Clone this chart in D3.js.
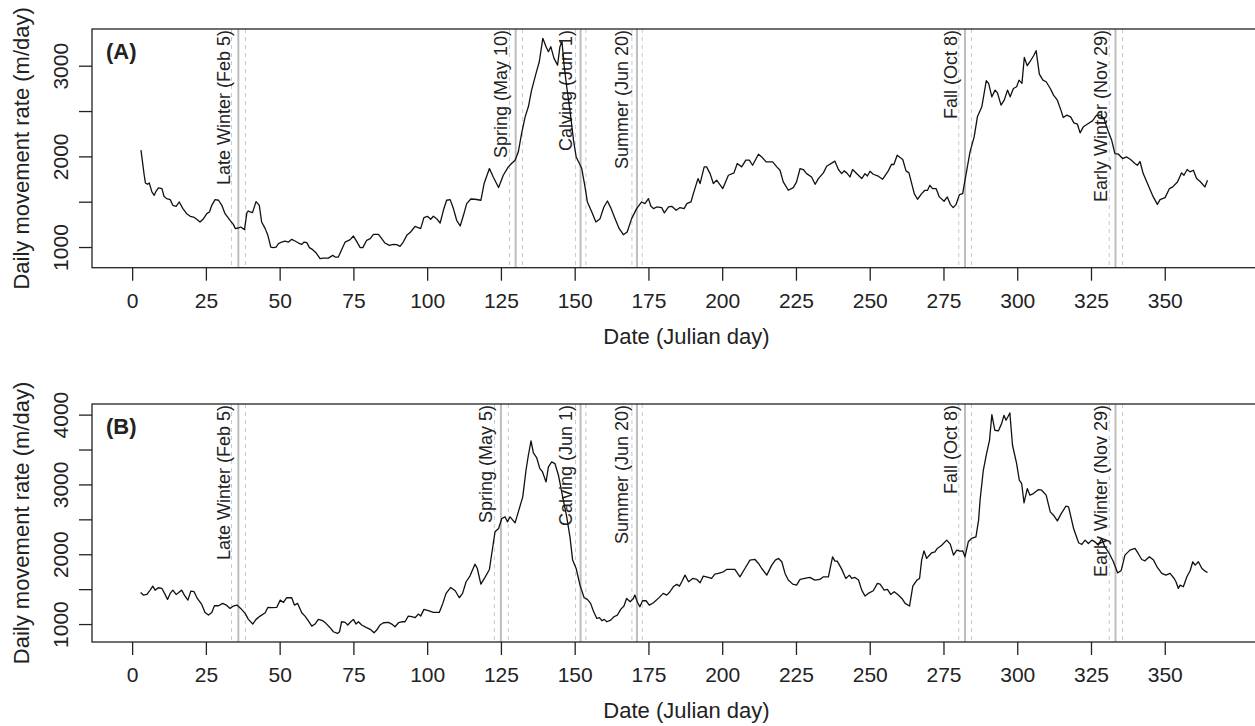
<!DOCTYPE html>
<html>
<head>
<meta charset="utf-8">
<script src="https://cdn.jsdelivr.net/npm/d3@7/dist/d3.min.js"></script>
<style>
  html, body { margin: 0; padding: 0; background: #fff; }
  svg { display: block; font-family: "Liberation Sans", Arial, Helvetica, sans-serif; }
</style>
</head>
<body>
<div id="chart"></div>
<script>
// ─── Data ───────────────────────────────────────────────────────────────
const daysA = [3.0,4.1,4.5,5.2,5.8,6.7,7.5,8.1,8.9,10.1,10.8,11.7,12.9,13.8,14.9,16.0,17.2,18.5,19.7,20.8,21.9,23.0,24.2,25.3,26.2,27.0,28.1,29.3,30.4,31.5,33.2,34.3,35.0,36.0,36.8,38.1,38.9,39.4,40.0,40.8,42.0,43.1,43.9,45.1,46.0,47.0,47.9,48.8,49.6,50.7,51.8,53.0,54.1,55.2,56.4,57.5,58.3,59.2,60.1,61.2,62.4,63.7,64.8,66.5,68.0,68.8,69.9,71.0,72.2,73.9,75.0,75.9,77.3,78.2,79.5,80.7,81.8,83.5,84.6,85.7,87.2,88.6,89.7,90.8,91.9,93.1,94.4,95.9,97.8,98.9,100.1,101.2,102.1,103.2,104.4,105.5,106.6,107.8,108.9,110.0,111.2,112.3,113.4,114.8,116.2,118.2,119.3,121.1,122.4,124.2,125.8,127.5,128.6,129.8,130.9,132.0,133.2,134.3,135.4,136.9,138.0,139.2,140.3,141.1,141.9,143.0,144.2,145.0,145.7,146.4,147.3,148.4,149.6,150.5,151.6,152.4,153.5,154.3,155.8,157.2,158.6,159.9,161.1,162.2,163.7,165.1,166.5,167.8,169.3,171.0,172.7,173.8,175.0,175.8,176.7,177.8,179.5,180.4,181.8,182.9,184.4,185.7,187.1,188.0,189.4,190.3,191.8,192.5,193.9,194.7,195.9,197.0,198.1,200.2,202.1,204.0,205.1,206.6,208.0,209.2,210.3,212.3,213.4,214.9,217.1,218.5,219.6,220.7,222.4,224.1,225.2,226.4,227.5,228.6,230.3,231.5,232.6,234.3,235.4,238.2,239.4,240.5,241.3,242.2,243.3,244.2,245.8,247.3,248.4,249.2,250.1,251.2,252.9,254.4,256.3,257.4,258.2,259.3,261.2,262.3,263.3,265.1,266.2,267.6,268.7,269.6,270.4,271.3,272.5,273.6,275.2,276.3,277.3,278.3,279.3,280.4,281.5,282.6,284.0,285.4,286.5,288.0,289.5,290.3,291.4,292.5,293.3,294.5,295.6,296.7,297.6,298.7,299.8,300.6,301.6,302.4,303.4,304.3,305.5,306.4,307.5,308.7,309.8,311.2,312.3,313.6,314.8,315.6,316.8,318.1,319.2,320.4,321.3,322.4,324.1,325.5,326.9,328.2,329.4,330.5,332.0,333.1,334.3,335.7,337.1,338.4,339.9,340.7,341.6,342.7,344.4,346.1,347.5,348.4,350.1,351.6,352.7,354.3,355.7,356.5,357.6,358.5,359.7,360.8,361.9,363.6,364.5];
const rateA = [2068,1792,1707,1692,1707,1608,1571,1615,1652,1645,1560,1534,1523,1460,1449,1497,1424,1368,1339,1331,1306,1276,1313,1368,1387,1460,1523,1516,1460,1368,1295,1250,1203,1210,1221,1192,1379,1398,1387,1379,1501,1460,1276,1203,1129,1000,993,1000,1037,1055,1066,1055,1085,1066,1044,1029,1055,1048,993,971,934,871,878,878,908,889,889,971,1055,1081,1122,1074,993,993,1074,1092,1140,1140,1092,1044,1018,1029,1026,1007,1055,1129,1166,1228,1203,1324,1339,1306,1339,1313,1265,1405,1516,1523,1424,1295,1232,1350,1479,1530,1527,1516,1700,1866,1773,1656,1792,1884,1921,1958,2050,2252,2436,2547,2731,2915,3044,3302,3210,3155,3210,3081,3007,3210,3265,3007,2768,2510,2179,1994,1921,1866,1663,1497,1387,1276,1313,1442,1508,1435,1313,1203,1136,1166,1313,1424,1497,1479,1534,1453,1424,1442,1435,1376,1442,1449,1405,1435,1424,1479,1497,1597,1755,1700,1884,1884,1810,1700,1737,1645,1792,1818,1921,1884,1958,1958,1902,2024,1994,1939,1939,1884,1847,1718,1626,1656,1718,1866,1855,1810,1773,1692,1755,1818,1891,1947,1855,1810,1840,1818,1773,1855,1803,1755,1810,1784,1836,1803,1781,1748,1840,1913,1910,2013,1965,1840,1818,1589,1527,1589,1626,1626,1681,1645,1645,1553,1505,1553,1471,1435,1471,1578,1589,1792,2050,2215,2436,2547,2834,2805,2657,2731,2701,2565,2620,2731,2657,2749,2768,2841,2805,3092,3000,3044,3107,3166,2908,2841,2823,2749,2676,2620,2510,2429,2455,2436,2370,2355,2259,2326,2363,2392,2455,2455,2418,2308,2179,2031,2024,1976,1994,1965,1921,1902,1943,1810,1681,1553,1471,1523,1545,1645,1663,1718,1818,1792,1855,1829,1847,1755,1726,1663,1737];

const daysB = [2.9,3.8,5.0,6.1,7.0,7.8,8.9,10.1,11.0,12.0,12.9,13.8,14.9,15.7,16.8,17.7,18.9,19.9,21.0,22.1,23.6,24.7,25.9,27.0,27.9,29.3,30.7,31.9,33.2,34.3,35.5,36.8,38.3,39.4,40.9,42.0,43.4,45.1,46.0,47.3,49.0,50.2,51.3,52.4,54.1,55.0,56.1,57.5,58.6,59.8,60.9,62.0,63.1,64.6,65.7,67.1,68.2,69.6,70.3,71.0,72.2,73.1,74.1,75.0,75.9,76.7,77.8,79.3,80.7,82.0,82.9,84.0,85.2,86.9,88.0,89.1,90.3,91.4,92.5,93.6,94.8,95.9,97.0,97.8,98.9,100.4,102.1,104.1,105.3,106.4,108.0,109.5,110.9,112.0,113.2,114.5,116.2,117.0,118.2,119.6,121.1,121.9,123.0,124.2,125.3,126.4,127.2,128.1,129.8,130.9,132.4,133.5,134.3,135.2,136.0,137.1,138.2,139.1,140.3,141.1,142.2,143.3,144.5,145.6,147.3,148.4,149.3,150.5,151.8,153.2,154.3,155.4,156.3,157.5,158.4,159.2,160.0,160.9,162.2,163.3,164.5,165.6,166.7,167.6,168.8,169.9,170.4,171.2,172.1,173.0,174.2,175.3,176.7,178.7,180.0,181.2,182.3,183.4,184.6,185.5,186.3,187.4,188.6,190.0,191.4,192.5,193.6,195.3,196.4,197.5,198.7,200.4,201.5,202.6,204.3,206.0,207.7,209.4,211.1,212.3,213.4,215.1,216.8,218.0,219.1,220.2,221.3,222.4,223.9,225.2,226.4,228.0,229.7,231.4,233.1,234.3,236.0,237.4,238.2,239.0,240.5,241.9,243.1,243.9,245.0,246.2,247.3,248.4,249.5,251.2,252.6,253.5,254.9,256.0,257.1,258.3,259.7,260.9,262.0,263.5,264.6,266.0,266.9,267.6,268.4,269.3,271.0,272.1,272.9,274.4,276.1,277.3,278.4,279.5,280.6,281.5,282.3,283.4,284.5,286.0,286.9,287.4,288.5,289.6,290.6,291.4,292.4,293.6,294.7,295.5,296.2,296.8,297.5,298.4,299.8,300.7,301.5,302.3,303.4,304.3,305.5,307.2,308.3,309.8,311.2,312.3,313.6,314.8,316.5,317.4,319.1,320.8,321.9,323.0,324.1,325.3,326.3,327.5,328.6,329.7,331.2,332.6,334.0,335.2,336.5,338.2,339.9,341.0,342.2,343.3,344.8,346.2,347.5,349.0,350.4,351.8,353.2,353.8,354.6,355.2,356.3,357.5,358.6,359.5,360.3,361.4,362.6,363.7,364.5];
const rateB = [1453,1415,1424,1486,1544,1486,1520,1510,1439,1353,1439,1486,1424,1448,1486,1415,1343,1472,1463,1367,1281,1167,1129,1167,1262,1262,1296,1272,1224,1258,1272,1224,1153,1067,1000,1067,1114,1162,1238,1234,1238,1343,1310,1377,1377,1272,1296,1162,1114,1043,971,1000,1067,1048,1010,948,890,866,890,1033,1024,986,1033,1067,1000,1033,986,952,924,876,914,986,1019,1024,1000,962,1019,1033,1033,1114,1105,1091,1143,1114,1210,1191,1167,1167,1296,1439,1525,1477,1377,1439,1606,1687,1858,1796,1572,1668,1782,2011,2321,2369,2512,2536,2464,2536,2450,2607,2822,3203,3418,3623,3451,3385,3227,3179,3036,3251,3323,3299,3132,2893,2536,2249,1916,1796,1558,1377,1353,1296,1191,1081,1091,1048,1067,1033,1057,1105,1129,1210,1258,1367,1320,1367,1415,1320,1248,1334,1334,1272,1305,1382,1439,1415,1463,1534,1568,1544,1606,1701,1606,1653,1639,1591,1687,1668,1653,1715,1725,1749,1782,1782,1782,1677,1796,1916,1925,1868,1796,1701,1844,1916,1940,1892,1725,1630,1572,1558,1639,1653,1668,1630,1639,1677,1677,1963,1901,1901,1787,1653,1701,1653,1668,1630,1486,1401,1439,1477,1582,1572,1486,1496,1424,1463,1415,1367,1296,1258,1544,1630,1653,1916,2049,1940,2021,2035,2083,2130,2202,2145,1987,2059,2044,2049,1963,2178,2226,2249,2488,2774,3203,3442,3632,3999,3776,3766,3871,3990,3919,3966,4024,3561,3299,3060,3013,2736,2941,2846,2869,2927,2917,2846,2607,2559,2478,2574,2688,2679,2369,2164,2140,2202,2154,2202,2178,2130,2226,2106,2011,1892,1734,1763,1987,2059,2083,2011,1925,1906,1963,1916,1811,1725,1701,1725,1653,1606,1510,1558,1534,1677,1763,1892,1844,1892,1796,1758,1739];

// seasonal breakpoints: estimate (solid) and interval bounds (dashed)
const eventLabelsA = ['Late Winter (Feb 5)', 'Spring (May 10)', 'Calving (Jun 1)', 'Summer (Jun 20)', 'Fall (Oct 8)', 'Early Winter (Nov 29)'];
const eventDaysA   = [36, 130, 152, 171.1, 282.3, 333.3];
const eventLoA     = [33.7, 127.9, 150.3, 169.4, 280.2, 331.2];
const eventHiA     = [38.4, 132.3, 153.8, 172.9, 284.5, 335.7];

const eventLabelsB = ['Late Winter (Feb 5)', 'Spring (May 5)', 'Calving (Jun 1)', 'Summer (Jun 20)', 'Fall (Oct 8)', 'Early Winter (Nov 29)'];
const eventDaysB   = [36, 125, 152, 171.1, 282.3, 333.3];
const eventLoB     = [33.7, 122.8, 150.3, 169.4, 280.2, 331.2];
const eventHiB     = [38.4, 127.5, 153.8, 172.9, 284.5, 335.7];

const xTicks = d3.range(0, 351, 25);
const yTicksA = [1000, 1500, 2000, 2500, 3000];
const yLabelsA = [1000, 2000, 3000];
const yTicksB = [1000, 1500, 2000, 2500, 3000, 3500, 4000];
const yLabelsB = [1000, 2000, 3000, 4000];

// ─── Layout ────────────────────────────────────────────────────────────
const W = 1255, H = 726;
const INK = '#222';
const FONT = 21;
const TITLE_FONT = 22;

const svg = d3.select('#chart').append('svg')
  .attr('width', W).attr('height', H);

svg.append('rect').attr('width', W).attr('height', H).attr('fill', '#fff');

// x range runs past the right edge of the picture (figure is cropped there)
const x = d3.scaleLinear().domain([-13.6, 389.4]).range([92, 1281]);

function drawPanel(p) {
  const y = d3.scaleLinear().domain(p.yDomain).range([p.bottom, p.top]);
  const g = svg.append('g');

  // event lines (behind the data)
  p.eventDays.forEach((d, i) => {
    [p.eventLo[i], p.eventHi[i]].forEach(v => {
      g.append('line')
        .attr('x1', x(v)).attr('x2', x(v))
        .attr('y1', p.top).attr('y2', p.bottom)
        .attr('stroke', '#c8c8c8').attr('stroke-width', 1)
        .attr('stroke-dasharray', '4,4');
    });
    g.append('line')
      .attr('x1', x(d)).attr('x2', x(d))
      .attr('y1', p.top).attr('y2', p.bottom)
      .attr('stroke', '#bdbdbd').attr('stroke-width', 2);
  });

  // rotated event labels, ending at the top of the box
  p.eventDays.forEach((d, i) => {
    const tx = x(d) - 8.5, ty = p.top + 1;
    g.append('text')
      .attr('transform', `translate(${tx},${ty}) rotate(-90)`)
      .attr('text-anchor', 'end')
      .attr('fill', INK).attr('font-size', 18)
      .text(p.eventLabels[i]);
  });

  // movement rate line
  const line = d3.line().x((d, i) => x(d)).y((d, i) => y(p.rate[i]));
  g.append('path')
    .attr('d', line(p.days))
    .attr('fill', 'none')
    .attr('stroke', '#111').attr('stroke-width', 1.3)
    .attr('stroke-linejoin', 'round');

  // box
  g.append('rect')
    .attr('x', 92).attr('y', p.top)
    .attr('width', 1281 - 92).attr('height', p.bottom - p.top)
    .attr('fill', 'none').attr('stroke', INK).attr('stroke-width', 1.3);

  // x axis
  const xAxis = d3.axisBottom(x).tickValues(xTicks).tickSize(13).tickPadding(12);
  g.append('g')
    .attr('transform', `translate(0,${p.bottom})`)
    .call(xAxis)
    .call(a => {
      a.select('.domain').remove();
      a.selectAll('line').attr('stroke', INK).attr('stroke-width', 1.3);
      a.selectAll('text').attr('fill', INK).attr('font-size', FONT)
        .attr('font-family', 'Liberation Sans, Arial, sans-serif');
    });

  // y axis
  const yAxis = d3.axisLeft(y).tickValues(p.yTicks).tickSize(13)
    .tickFormat(v => p.yLabels.includes(v) ? String(v) : '');
  g.append('g')
    .attr('transform', 'translate(92,0)')
    .call(yAxis)
    .call(a => {
      a.select('.domain').remove();
      a.selectAll('line').attr('stroke', INK).attr('stroke-width', 1.3);
      a.selectAll('text')
        .attr('fill', INK).attr('font-size', FONT)
        .attr('font-family', 'Liberation Sans, Arial, sans-serif')
        .attr('x', null).attr('dy', null)
        .attr('text-anchor', 'middle')
        .attr('transform', 'translate(-24,0) rotate(-90)');
    });

  // axis titles
  g.append('text')
    .attr('x', (92 + 1281) / 2).attr('y', p.bottom + 76)
    .attr('text-anchor', 'middle').attr('fill', INK).attr('font-size', TITLE_FONT)
    .text('Date (Julian day)');

  g.append('text')
    .attr('transform', `translate(29,${(p.top + p.bottom) / 2}) rotate(-90)`)
    .attr('text-anchor', 'middle').attr('fill', INK).attr('font-size', TITLE_FONT)
    .text('Daily movement rate (m/day)');

  // panel tag
  g.append('text')
    .attr('x', 106).attr('y', p.top + 30)
    .attr('fill', INK).attr('font-size', 22).attr('font-weight', 'bold')
    .text(p.tag);
}

drawPanel({
  tag: '(A)', top: 29, bottom: 267.7, yDomain: [772, 3405],
  days: daysA, rate: rateA, yTicks: yTicksA, yLabels: yLabelsA,
  eventLabels: eventLabelsA, eventDays: eventDaysA, eventLo: eventLoA, eventHi: eventHiA
});

drawPanel({
  tag: '(B)', top: 404, bottom: 642, yDomain: [743, 4152],
  days: daysB, rate: rateB, yTicks: yTicksB, yLabels: yLabelsB,
  eventLabels: eventLabelsB, eventDays: eventDaysB, eventLo: eventLoB, eventHi: eventHiB
});
</script>
</body>
</html>
